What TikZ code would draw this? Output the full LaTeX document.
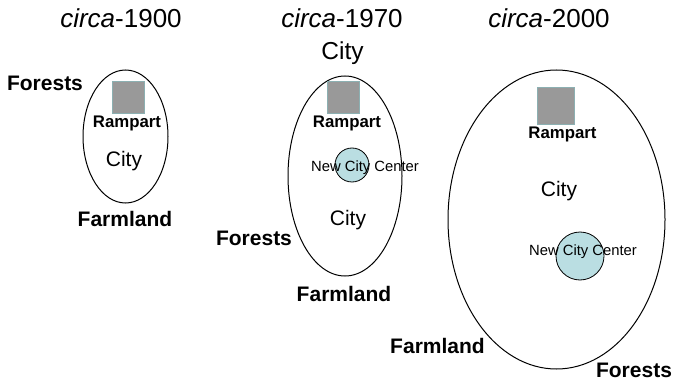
\documentclass[tikz,border=0pt]{standalone}
\usepackage{fontspec}
\setmainfont{Liberation Sans}
\usetikzlibrary{positioning,shapes}
\definecolor{centreblue}{RGB}{186,222,226}
\definecolor{wallgray}{RGB}{153,153,153}
\definecolor{wallrim}{RGB}{140,176,178}

\begin{document}
\begin{tikzpicture}[x=1pt, y=-1pt, inner sep=0pt, auto]
\tikzset{
  town/.style={ellipse, draw=black, line width=1pt},
  rampartsq/.style={rectangle, fill=wallgray, draw=wallrim, line width=0.8pt},
  centre/.style={circle, fill=centreblue, draw=black, line width=0.8pt},
  land/.style={font=\fontsize{21}{24}\selectfont\bfseries},
  wall/.style={font=\fontsize{16.8}{19}\selectfont\bfseries},
  citytext/.style={font=\fontsize{21}{24}\selectfont},
  ncc/.style={font=\fontsize{14.8}{17}\selectfont},
  era/.style={font=\fontsize{26}{30}\selectfont}
}
\useasboundingbox (0,0) rectangle (677,382);

% circa-1900
\node (era1) [era] at (121,18) {\textit{circa}-1900};
\node (town1) [town, minimum width=85, minimum height=133] at (125.5,136.5) {};
\node (sq1) [rampartsq, minimum size=32] at (128,97) {};
\node (rampart1) [wall] at (127,123) {Rampart};
\node (city1) [citytext] at (124,161) {City};
\node (forests1) [land] at (45,83) {Forests};
\node (farmland1) [land] at (125,219) {Farmland};

% circa-1970
\node (era2) [era] at (342,18) {\textit{circa}-1970};
\node (citytop2) [font=\fontsize{24.5}{28}\selectfont] at (342.5,53) {City};
\node (town2) [town, minimum width=114, minimum height=200] at (345,176) {};
\node (sq2) [rampartsq, minimum size=32] at (343,97) {};
\node (rampart2) [wall] at (347,123) {Rampart};
\node (ncc2) [centre, minimum size=34] at (352,165) {};
\node (ncctext2) [ncc] at (365,168) {New City Center};
\node (city2) [citytext] at (348,220) {City};
\node (forests2) [land] at (254,238) {Forests};
\node (farmland2) [land] at (344,294) {Farmland};

% circa-2000
\node (era3) [era] at (549,18) {\textit{circa}-2000};
\node (town3) [town, minimum width=217, minimum height=299] at (556.5,219.5) {};
\node (sq3) [rampartsq, minimum size=37] at (556,105.5) {};
\node (rampart3) [wall] at (562.5,134) {Rampart};
\node (city3) [citytext] at (559,191) {City};
\node (ncc3) [centre, minimum size=48] at (580,256) {};
\node (ncctext3) [ncc] at (583,252) {New City Center};
\node (farmland3) [land] at (437.5,346) {Farmland};
\node (forests3) [land] at (634,370) {Forests};
\end{tikzpicture}
\end{document}
